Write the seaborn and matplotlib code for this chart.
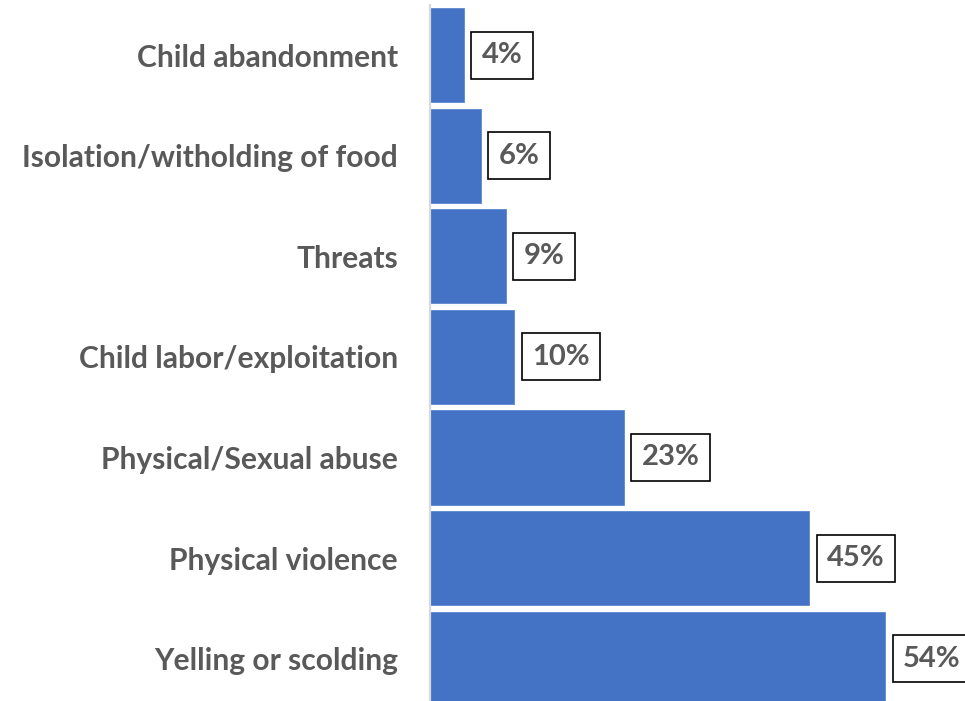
import matplotlib
matplotlib.use("Agg")
import matplotlib.pyplot as plt
import seaborn as sns
import pandas as pd

categories = [
    "Child abandonment",
    "Isolation/witholding of food",
    "Threats",
    "Child labor/exploitation",
    "Physical/Sexual abuse",
    "Physical violence",
    "Yelling or scolding",
]
percentages = [4, 6, 9, 10, 23, 45, 54]

df = pd.DataFrame({"category": categories, "pct": percentages})

sns.set_theme(style="white")
plt.rcParams["font.family"] = ["Lato", "DejaVu Sans"]

text_color = "#595959"
bar_color = "#4472C4"

fig = plt.figure(figsize=(9.65, 7.01), dpi=100)
ax = fig.add_axes([430 / 965, 0.0, 1 - 430 / 965, 1 - 4.7 / 701])

sns.barplot(data=df, x="pct", y="category", orient="h", color=bar_color,
            width=0.935, saturation=1, ax=ax, edgecolor="#5b86d0", linewidth=0.6)

ax.set_xlim(0, 63.5)
ax.set_ylim(6.42, -0.5)
ax.set_xlabel("")
ax.set_ylabel("")
ax.set_xticks([])

for side in ["top", "right", "bottom"]:
    ax.spines[side].set_visible(False)
ax.spines["left"].set_color("#d9d9d9")
ax.spines["left"].set_linewidth(1.6)

ax.tick_params(axis="y", length=0, pad=23)
for lbl in ax.get_yticklabels():
    lbl.set_fontsize(21.6)
    lbl.set_fontweight("bold")
    lbl.set_color(text_color)

ax.bar_label(
    ax.containers[0],
    labels=[f"{v}%" for v in percentages],
    padding=13,
    fontsize=21,
    fontweight="bold",
    color=text_color,
    bbox=dict(boxstyle="square,pad=0.36", facecolor="white", edgecolor="black", linewidth=1.2),
    clip_on=False,
)

fig.savefig("out.png", dpi=100)
